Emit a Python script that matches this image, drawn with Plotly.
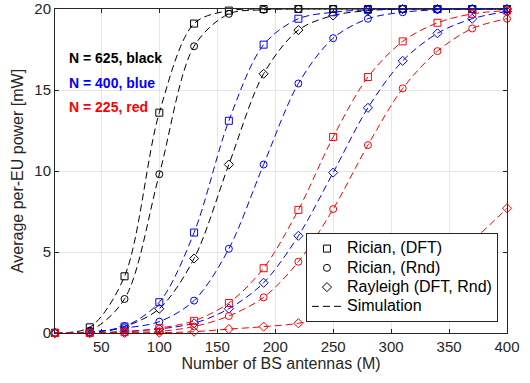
import plotly.graph_objects as go

M = [10, 40, 70, 100, 130, 160, 190, 220, 250, 280, 310, 340, 370, 400]

# N = 625 (black)
k625_dft = [0.02, 0.35, 3.5, 13.6, 19.1, 19.9, 20.0, 20.0, 20.0, 20.0, 20.0, 20.0, 20.0, 20.0]
k625_rnd = [0.01, 0.15, 2.1, 9.8, 17.7, 19.7, 19.95, 20.0, 20.0, 20.0, 20.0, 20.0, 20.0, 20.0]
k625_ray = [0.0, 0.05, 0.4, 1.5, 4.6, 10.4, 16.0, 18.7, 19.6, 19.9, 20.0, 20.0, 20.0, 20.0]
# N = 400 (blue)
b400_dft = [0.0, 0.05, 0.4, 1.9, 6.2, 13.1, 17.8, 19.4, 19.8, 19.95, 20.0, 20.0, 20.0, 20.0]
b400_rnd = [0.0, 0.05, 0.3, 0.7, 2.0, 5.2, 10.4, 15.4, 18.2, 19.4, 19.8, 19.95, 20.0, 20.0]
b400_ray = [0.0, 0.0, 0.1, 0.25, 0.6, 1.5, 3.1, 6.0, 9.9, 13.9, 16.8, 18.5, 19.4, 19.85]
# N = 225 (red)
r225_dft = [0.0, 0.0, 0.05, 0.3, 0.75, 1.85, 4.0, 7.6, 12.1, 15.8, 18.0, 19.15, 19.7, 19.9]
r225_rnd = [0.0, 0.0, 0.03, 0.1, 0.4, 1.05, 2.2, 4.4, 7.65, 11.6, 15.1, 17.4, 18.8, 19.4]
r225_ray = [0.0, 0.0, 0.0, 0.02, 0.08, 0.24, 0.39, 0.6, 1.1, 1.8, 2.8, 4.1, 5.7, 7.7]

x_ticks = [50, 100, 150, 200, 250, 300, 350, 400]
y_ticks = [0, 5, 10, 15, 20]

series = [
    (k625_dft, "black", "square-open"),
    (k625_rnd, "black", "circle-open"),
    (k625_ray, "black", "diamond-open"),
    (b400_dft, "blue", "square-open"),
    (b400_rnd, "blue", "circle-open"),
    (b400_ray, "blue", "diamond-open"),
    (r225_dft, "red", "square-open"),
    (r225_rnd, "red", "circle-open"),
    (r225_ray, "red", "diamond-open"),
]

FONT = "Liberation Sans, Arial"
DASH = "7px,4px"

def big(s):
    return "<span style='font-size:16px'>" + s + "</span>"

fig = go.Figure()
for ys, col, sym in series:
    fig.add_trace(go.Scatter(
        x=M, y=ys, mode="lines+markers", showlegend=False,
        line=dict(color=col, width=1, dash=DASH, shape="spline", smoothing=0.9),
        marker=dict(symbol=sym, size=7, color=col, line=dict(color=col, width=1)),
        cliponaxis=False,
    ))

for name, sym in [("Rician, (DFT)", "square-open"), ("Rician, (Rnd)", "circle-open"),
                  ("Rayleigh (DFT, Rnd)", "diamond-open")]:
    fig.add_trace(go.Scatter(x=[None], y=[None], mode="markers", name=big(name),
                             marker=dict(symbol=sym, size=7, color="black",
                                         line=dict(color="black", width=1))))
fig.add_trace(go.Scatter(x=[None], y=[None], mode="lines", name=big("Simulation"),
                         line=dict(color="black", width=1, dash=DASH)))

for txt, yv, col in [("N = 625, black", 16.97, "black"), ("N = 400, blue", 15.43, "blue"),
                     ("N = 225, red", 13.95, "red")]:
    fig.add_annotation(x=20.4, y=yv, text="<b>" + txt + "</b>", showarrow=False,
                       xanchor="left", yanchor="middle",
                       font=dict(family=FONT, size=14, color=col))

axis_common = dict(showline=True, linecolor="#262626", linewidth=1, mirror="ticks",
                   ticks="inside", ticklen=4, tickcolor="#262626", automargin=False,
                   showgrid=True, gridcolor="#e6e6e6", gridwidth=1, zeroline=False,
                   tickfont=dict(family=FONT, size=15, color="#262626"))

fig.update_xaxes(range=[10, 400], tickvals=x_ticks,
                 title=dict(text="Number of BS antennas (M)", standoff=3,
                            font=dict(family=FONT, size=16, color="#262626")),
                 **axis_common)
fig.update_yaxes(range=[0, 20], tickvals=y_ticks,
                 title=dict(text="Average per-EU power [mW]", standoff=6,
                            font=dict(family=FONT, size=16, color="#262626")),
                 **axis_common)

fig.update_layout(
    width=530, height=383,
    margin=dict(l=55, r=23, t=9, b=50),
    plot_bgcolor="white", paper_bgcolor="white",
    legend=dict(x=0.98, y=0.034, xanchor="right", yanchor="bottom",
                bgcolor="white", bordercolor="#262626", borderwidth=1,
                font=dict(family=FONT, size=12.5, color="black"),
                tracegroupgap=0, itemwidth=30),
)

fig.write_html("out.html", config={"displayModeBar": False},
               post_script="document.body.style.margin='0';")
